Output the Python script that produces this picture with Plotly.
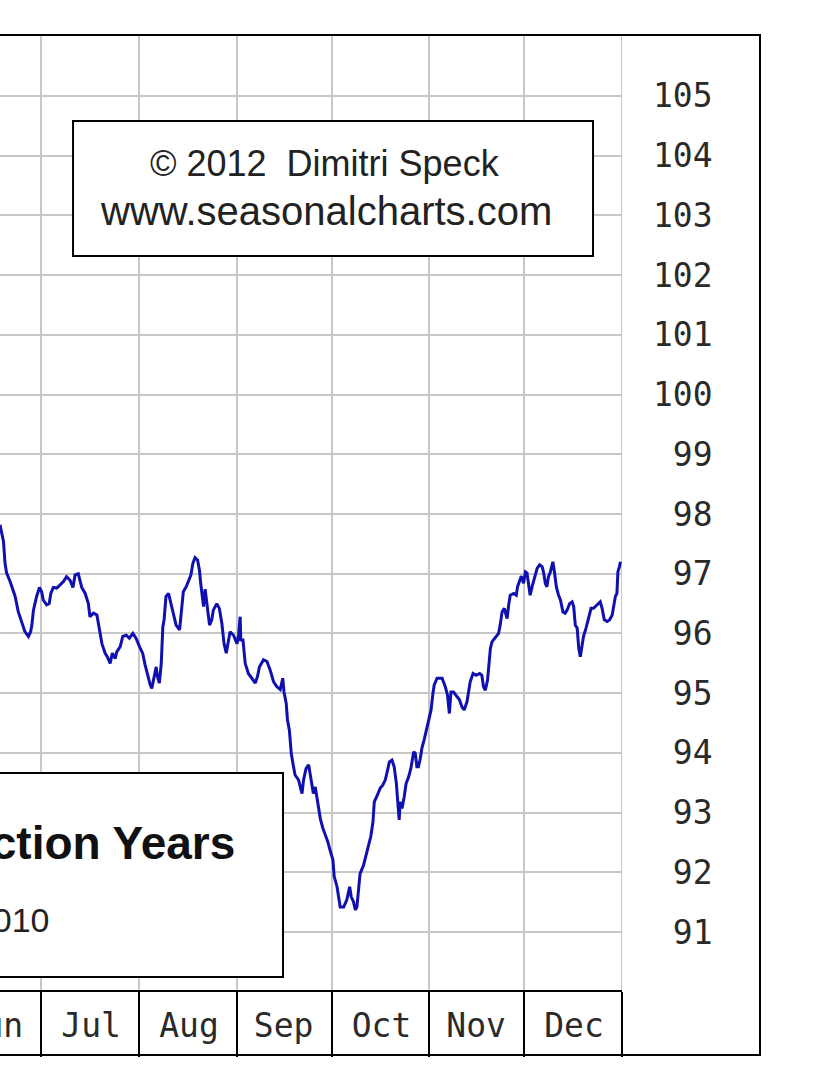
import pandas as pd
import plotly.graph_objects as go

# seasonal curve: days counted from 1 July, index values
days = [-13.1, -12.0, -11.5, -11.0, -9.9, -8.3, -7.3, -6.2, -5.2, -4.1, -3.4, -3.0, -2.5, -1.5, -0.6,
        0.1, 0.6, 1.7, 2.5, 3.0, 3.8, 4.9, 5.9, 7.0, 8.0, 9.1, 10.0, 10.7, 11.7, 12.8, 13.9, 14.9, 15.4,
        16.5, 17.6, 18.6, 19.2, 20.2, 20.9, 21.8, 22.5, 23.4, 23.9, 25.0, 25.8, 26.9, 27.9, 29.0, 30.0,
        31.1, 32.1, 32.9, 33.6, 34.5, 35.0, 35.7, 36.4, 36.8, 37.4, 38.0, 38.5, 38.9, 39.5, 40.3, 41.0,
        41.9, 42.7, 43.8, 44.5, 45.0, 45.9, 46.6, 47.4, 48.0, 48.7, 49.5, 50.1, 50.5, 50.9, 51.4, 51.9,
        52.4, 53.3, 54.0, 54.5, 55.6, 56.4, 57.2, 57.9, 58.6, 59.3, 59.8, 60.9, 62.0, 62.5, 63.0, 63.2,
        63.9, 64.6, 65.6, 66.7, 67.8, 68.5, 69.1, 70.4, 71.5, 72.5, 73.6, 74.6, 75.7, 76.5, 76.9, 77.6,
        78.0, 78.6,
        79.2, 79.7, 80.4, 81.5, 82.0, 82.6, 83.1, 83.9, 84.7, 85.2, 85.7, 86.2, 86.8, 87.3, 87.8, 88.4,
        89.2, 89.9, 90.8, 91.5, 92.4, 92.8, 93.7, 94.2, 94.7, 95.8, 96.8, 97.7, 98.2, 98.9, 99.5, 100.0,
        100.5, 101.0, 102.1, 102.9, 103.7, 104.4, 105.1, 105.5, 106.3, 107.4, 108.2, 109.0, 109.5, 110.3,
        111.1, 111.8, 112.5, 113.0, 113.4, 113.7, 114.3, 115.0, 115.6, 116.4, 117.1, 118.0, 118.5, 119.0,
        119.5, 120.1, 120.6, 121.3, 122.0, 122.7, 123.5, 124.1, 124.5, 125.4, 127.0, 128.0, 128.7, 129.3,
        129.8, 130.6, 131.7, 132.5, 133.3, 134.0, 134.9, 135.4, 135.9, 136.8, 137.8, 138.9, 139.6, 140.1,
        140.7, 141.4, 141.7, 142.3, 142.8, 143.8, 144.9,
        145.4, 146.0, 146.7, 147.6, 148.1, 148.6, 149.7, 150.5, 150.9, 151.6, 152.1, 152.8, 153.4, 153.9,
        154.4, 154.9, 155.5, 156.2, 157.1, 157.9, 158.7, 159.2, 159.7, 160.2, 160.7, 161.3, 161.8, 162.1,
        162.6, 163.2, 163.9, 164.5, 165.3, 166.0, 166.6, 167.4, 168.2, 168.7, 169.2, 169.8, 170.3, 170.8,
        171.3, 171.8, 172.6, 173.4, 174.2, 175.0, 176.1, 177.1, 177.7, 178.4, 179.3, 180.1, 180.9, 181.4,
        181.9, 182.4, 182.7, 183.2, 183.5]

values = [97.82, 97.54, 97.17, 97.01, 96.87, 96.62, 96.36, 96.17, 96.03, 95.95, 96.03, 96.14, 96.39, 96.62, 96.77,
          96.70, 96.56, 96.48, 96.50, 96.67, 96.77, 96.76, 96.81, 96.87, 96.95, 96.89, 96.77, 96.98, 97.00, 96.77, 96.67, 96.50, 96.28,
          96.34, 96.31, 96.00, 95.83, 95.67, 95.61, 95.50, 95.67, 95.58, 95.69, 95.78, 95.95, 95.97, 95.92, 96.00, 95.92,
          95.78, 95.67, 95.47, 95.30, 95.14, 95.08, 95.25, 95.44, 95.28, 95.17, 95.50, 96.11, 96.23, 96.62, 96.67, 96.50,
          96.31, 96.14, 96.06, 96.39, 96.70, 96.78, 96.89, 96.98, 97.17, 97.27, 97.23, 97.06, 96.84, 96.62, 96.45, 96.74,
          96.50, 96.14, 96.23, 96.39, 96.50, 96.42, 96.17, 95.83, 95.67, 95.89, 96.03, 95.97, 95.83, 95.97, 96.28, 95.89,
          95.89, 95.50, 95.33, 95.25, 95.17, 95.28, 95.44, 95.56, 95.53, 95.39, 95.19, 95.11, 95.06, 95.25, 95.02, 94.83,
          94.55, 94.38,
          93.99, 93.83, 93.63, 93.55, 93.43, 93.32, 93.55, 93.74, 93.80, 93.63, 93.49, 93.32, 93.43, 93.24, 93.10, 92.90,
          92.74, 92.65, 92.51, 92.37, 92.21, 91.93, 91.76, 91.59, 91.42, 91.42, 91.54, 91.76, 91.59, 91.51, 91.37, 91.42,
          91.76, 91.98, 92.12, 92.29, 92.43, 92.60, 92.85, 93.18, 93.27, 93.41, 93.46, 93.55, 93.66, 93.85,
          93.88, 93.77, 93.49, 93.16, 92.88, 93.18, 93.07, 93.27, 93.49, 93.60, 93.74, 94.02, 93.99, 93.77,
          93.77, 93.91, 94.08, 94.22, 94.38, 94.55, 94.72, 95.00, 95.14, 95.25, 95.25, 95.11, 94.97, 94.66,
          95.02, 95.02, 94.94, 94.89, 94.77, 94.72, 94.86, 95.00, 95.19, 95.33, 95.30, 95.33, 95.30, 95.11,
          95.05, 95.22, 95.44, 95.75, 95.86, 95.92, 96.00,
          96.14, 96.36, 96.42, 96.25, 96.48, 96.64, 96.67, 96.64, 96.78, 96.89, 96.96, 96.84, 97.03, 97.01,
          96.78, 96.64, 96.78, 96.92, 97.09, 97.15, 97.12, 97.01, 96.84, 96.78, 96.95, 97.03, 97.15, 97.20,
          97.03, 96.78, 96.64, 96.56, 96.36, 96.34, 96.39, 96.50, 96.53, 96.45, 96.14, 96.09, 95.75, 95.61,
          95.78, 95.95, 96.09, 96.25, 96.42, 96.42, 96.48, 96.53, 96.42, 96.23, 96.20, 96.23, 96.31, 96.45,
          96.62, 96.67, 97.03, 97.12, 97.20]

# month boundaries; each label belongs to the month ending at that boundary
month_starts = ["2011-07-01", "2011-08-01", "2011-09-01", "2011-10-01",
                "2011-11-01", "2011-12-01", "2012-01-01"]
month_names = ["Jun", "Jul", "Aug", "Sep", "Oct", "Nov", "Dec"]
y_ticks = list(range(91, 106))

start = pd.Timestamp("2011-07-01")
dates = start + pd.to_timedelta(days, unit="D")
x_range = [start - pd.Timedelta(days=13.1), pd.Timestamp("2012-01-01")]

tick_font = dict(family="DejaVu Sans Mono", size=33, color="#2a2a2a")

fig = go.Figure(go.Scatter(x=dates, y=values, mode="lines",
                           line=dict(color="#1010b0", width=3)))

fig.update_layout(
    width=816, height=1073,
    margin=dict(l=0, r=56, t=35, b=18),
    paper_bgcolor="white", plot_bgcolor="white",
    showlegend=False,
    xaxis=dict(domain=[0, 0.8184], type="date", range=x_range, automargin=False,
               tickmode="array", tickvals=month_starts, ticktext=month_names,
               showgrid=True, gridcolor="#c8c8c8", gridwidth=2,
               ticks="outside", ticklen=65, tickwidth=2, tickcolor="black",
               showline=True, linecolor="black", linewidth=2,
               ticklabelshift=-48, ticklabelstandoff=-60, ticklabeloverflow="allow",
               tickfont=tick_font),
    yaxis=dict(domain=[0.0637, 1], side="right", range=[90.03, 106.02], automargin=False,
               tickmode="array", tickvals=y_ticks,
               ticktext=[f"{v:>3}".replace(" ", "\u00a0") for v in y_ticks],
               showgrid=True, gridcolor="#c8c8c8", gridwidth=2, zeroline=False,
               ticks="", ticklabelstandoff=30, tickfont=tick_font),
)

# grey line closing the grid on the right
fig.add_shape(type="line", xref="x", yref="y domain", x0="2012-01-01", x1="2012-01-01", y0=0, y1=1,
              line=dict(color="#c8c8c8", width=2), layer="below")

# outer frame (left side is cut off in the original crop)
fig.add_shape(type="rect", xref="paper", yref="paper", x0=-0.01, x1=1, y0=0, y1=1,
              line=dict(color="black", width=2))

# copyright box
fig.add_shape(type="rect", xref="paper", yref="paper", x0=0.0961, x1=0.7803, y0=0.7833, y1=0.9157,
              line=dict(color="black", width=2), fillcolor="white")
fig.add_annotation(xref="paper", yref="paper", x=0.4276, y=0.8745, xanchor="center", yanchor="middle",
                   showarrow=False, text="© 2012\u00a0 Dimitri Speck",
                   font=dict(family="Liberation Sans", size=36, color="#222222"))
fig.add_annotation(xref="paper", yref="paper", x=0.4296, y=0.8275, xanchor="center", yanchor="middle",
                   showarrow=False, text="www.seasonalcharts.com",
                   font=dict(family="Liberation Sans", size=40, color="#222222"))

# title box
fig.add_shape(type="rect", xref="paper", yref="paper", x0=-0.05, x1=0.3724, y0=0.0765, y1=0.2765,
              line=dict(color="black", width=2), fillcolor="white")
fig.add_annotation(xref="paper", yref="paper", x=0.3118, y=0.2074, xanchor="right", yanchor="middle",
                   showarrow=False, text="<b>Midterm Election Years</b>",
                   font=dict(family="Liberation Sans", size=46, color="#111111"))
fig.add_annotation(xref="paper", yref="paper", x=0.0684, y=0.1324, xanchor="right", yanchor="middle",
                   showarrow=False, text="1950 - 2010",
                   font=dict(family="Liberation Sans", size=34, color="#222222"))

# the page body adds an 8px margin by default; drop it so the chart sits at the corner
fig.write_html("out.html", config={"displayModeBar": False},
               post_script="document.body.style.margin='0px';")
